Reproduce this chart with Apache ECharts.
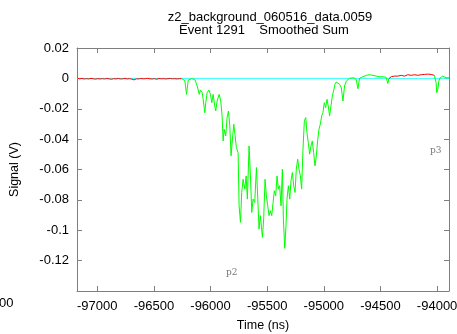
<!DOCTYPE html>
<html><head><meta charset="utf-8">
<script src="https://cdn.jsdelivr.net/npm/echarts@6/dist/echarts.min.js"></script>
<style>html,body{margin:0;padding:0;background:#fff}#c{width:457px;height:334px}</style>
</head><body><div id="c"></div>
<script>
// ---- data (time ns, signal V) ----
const titleLine1 = 'z2_background_060516_data.0059';
const titleLine2 = 'Event 1291    Smoothed Sum';
const xTicks = [-97000, -96500, -96000, -95500, -95000, -94500, -94000];
const xRange = [-97179, -93895];
const yRange = [-0.14, 0.02];
const baseline = [[-97179, 0], [-93895, 0]];
const redBefore = [[-97175,0.0001],[-97155,-0.0003],[-97135,-0.0001],[-97115,-0.0004],[-97095,-0.0002],[-97075,-0.0004],[-97055,0.0000],[-97035,-0.0003],[-97015,-0.0005],[-96995,-0.0002],[-96975,-0.0004],[-96955,-0.0002],[-96935,-0.0004],[-96915,-0.0001],[-96895,-0.0003],[-96875,-0.0006],[-96855,-0.0002],[-96835,-0.0004],[-96815,-0.0001],[-96795,-0.0004],[-96775,-0.0003],[-96755,-0.0001],[-96735,-0.0004],[-96715,-0.0002],[-96695,-0.0005],[-96675,-0.0010],[-96655,-0.0003],[-96635,-0.0004],[-96615,-0.0001],[-96595,-0.0003],[-96575,-0.0002],[-96555,0.0000],[-96535,-0.0003],[-96515,-0.0004],[-96495,-0.0002],[-96475,-0.0006],[-96455,-0.0001],[-96435,-0.0003],[-96415,-0.0002],[-96395,-0.0004],[-96375,-0.0002],[-96355,-0.0001],[-96335,-0.0003],[-96315,-0.0002],[-96295,-0.0004],[-96275,-0.0002],[-96256,-0.0002]];
const greenPulse = [[-96256,-0.0002],[-96242,-0.0011],[-96227,-0.0015],[-96212,-0.0105],[-96197,-0.0011],[-96183,-0.0007],[-96168,-0.0002],[-96153,-0.0011],[-96139,-0.0007],[-96130,-0.0024],[-96118,-0.0050],[-96100,-0.0105],[-96089,-0.0077],[-96074,-0.0094],[-96065,-0.0138],[-96051,-0.0226],[-96042,-0.0160],[-96030,-0.0094],[-96015,-0.0077],[-96001,-0.0105],[-95989,-0.0160],[-95977,-0.0105],[-95963,-0.0182],[-95954,-0.0215],[-95942,-0.0149],[-95924,-0.0105],[-95910,-0.0149],[-95898,-0.0247],[-95889,-0.0412],[-95880,-0.0335],[-95866,-0.0379],[-95854,-0.0258],[-95842,-0.0215],[-95830,-0.0313],[-95819,-0.0510],[-95807,-0.0401],[-95795,-0.0302],[-95783,-0.0379],[-95772,-0.0456],[-95757,-0.0488],[-95748,-0.0839],[-95736,-0.0948],[-95725,-0.0751],[-95713,-0.0664],[-95698,-0.0729],[-95686,-0.0642],[-95675,-0.0795],[-95660,-0.0445],[-95648,-0.0642],[-95636,-0.0883],[-95625,-0.0795],[-95610,-0.0817],[-95595,-0.0587],[-95583,-0.0795],[-95572,-0.0992],[-95560,-0.0904],[-95542,-0.1047],[-95531,-0.0926],[-95519,-0.0664],[-95507,-0.0773],[-95495,-0.0839],[-95484,-0.0904],[-95472,-0.0872],[-95460,-0.0904],[-95448,-0.0817],[-95437,-0.0740],[-95425,-0.0773],[-95413,-0.0642],[-95401,-0.0729],[-95390,-0.0707],[-95378,-0.0839],[-95366,-0.0598],[-95357,-0.0926],[-95345,-0.1119],[-95334,-0.0970],[-95325,-0.0795],[-95313,-0.0707],[-95301,-0.0795],[-95290,-0.0675],[-95278,-0.0620],[-95266,-0.0707],[-95254,-0.0751],[-95243,-0.0598],[-95231,-0.0532],[-95219,-0.0598],[-95207,-0.0642],[-95196,-0.0729],[-95184,-0.0466],[-95172,-0.0280],[-95160,-0.0258],[-95149,-0.0357],[-95137,-0.0423],[-95125,-0.0499],[-95113,-0.0445],[-95102,-0.0412],[-95090,-0.0488],[-95078,-0.0576],[-95066,-0.0510],[-95055,-0.0412],[-95043,-0.0335],[-95031,-0.0302],[-95019,-0.0247],[-95008,-0.0226],[-94996,-0.0160],[-94984,-0.0193],[-94972,-0.0138],[-94961,-0.0182],[-94949,-0.0247],[-94937,-0.0182],[-94925,-0.0116],[-94914,-0.0083],[-94902,-0.0039],[-94890,-0.0024],[-94875,-0.0033],[-94861,-0.0039],[-94846,-0.0061],[-94831,-0.0149],[-94817,-0.0050],[-94802,-0.0018],[-94787,-0.0007],[-94773,0.0000],[-94758,-0.0002],[-94737,0.0004],[-94714,-0.0007],[-94699,-0.0068],[-94685,0.0000],[-94655,0.0011],[-94626,0.0020],[-94596,0.0024],[-94567,0.0020],[-94538,0.0015],[-94508,0.0011],[-94479,0.0011],[-94450,0.0007],[-94435,-0.0033],[-94426,-0.0002]];
const redAfter = [[-94426,-0.0002],[-94405,0.0011],[-94376,0.0015],[-94347,0.0015],[-94317,0.0020],[-94288,0.0015],[-94259,0.0024],[-94229,0.0020],[-94200,0.0024],[-94170,0.0020],[-94141,0.0024],[-94112,0.0026],[-94082,0.0028],[-94053,0.0026],[-94038,0.0037],[-94024,0.0020]];
const greenTail = [[-94024,0.0020],[-94009,-0.0028],[-94003,-0.0094],[-93994,-0.0072],[-93985,-0.0018],[-93973,0.0004],[-93950,0.0015],[-93920,0.0004],[-93895,0.0004]];
const notes = [{text:'p2', x:226, y:268}, {text:'p3', x:430, y:146}];

const chart = echarts.init(document.getElementById('c'), null, {renderer:'canvas'});
const frame = '#7f7f7f';
const font = 'Liberation Sans, Arial, Helvetica, sans-serif';
const tick = {show:true, inside:true, length:5, lineStyle:{color:frame, width:1}};
const axLine = {show:true, onZero:false, lineStyle:{color:frame, width:1}};
function fmtY(v){ if (v < -0.139) return ''; return String(parseFloat(v.toFixed(2))); }
function fmtX(v){ return String(Math.round(v)); }
function line(data, color, z){ return {type:'line', data, symbol:'none', animation:false, z, lineStyle:{color, width:1}, itemStyle:{color}}; }
chart.setOption({
  animation:false,
  backgroundColor:'#fff',
  title:[
    {text:titleLine1, left:265, top:6, textAlign:'center',
      textStyle:{fontFamily:font, fontSize:13, fontWeight:'normal', color:'#000'}},
    {text:titleLine2, left:259, top:19, textAlign:'center',
      textStyle:{fontFamily:font, fontSize:13, fontWeight:'normal', color:'#000'}}
  ],
  grid:{left:77, right:8, top:48, bottom:43, outerBoundsMode:'none', containLabel:false},
  xAxis:[
    {type:'value', min:xRange[0], max:xRange[1], position:'bottom',
      axisLine:axLine, splitLine:{show:false},
      axisTick:Object.assign({customValues:xTicks}, tick),
      axisLabel:{customValues:xTicks, formatter:fmtX, color:'#000', fontFamily:font, fontSize:13, margin:9},
      name:'Time (ns)', nameLocation:'middle', nameGap:28,
      nameTextStyle:{color:'#000', fontFamily:font, fontSize:12.5}},
    {type:'value', min:xRange[0], max:xRange[1], position:'top',
      axisLine:axLine, splitLine:{show:false},
      axisTick:Object.assign({customValues:xTicks}, tick), axisLabel:{show:false}}
  ],
  yAxis:[
    {type:'value', min:yRange[0], max:yRange[1], interval:0.02, position:'left',
      axisLine:axLine, splitLine:{show:false}, axisTick:tick,
      axisLabel:{formatter:fmtY, color:'#000', fontFamily:font, fontSize:13, margin:8},
      name:'Signal (V)', nameLocation:'middle', nameGap:56,
      nameTextStyle:{color:'#000', fontFamily:font, fontSize:12.5}},
    {type:'value', min:yRange[0], max:yRange[1], interval:0.02, position:'right',
      axisLine:axLine, splitLine:{show:false}, axisTick:tick,
      axisLabel:{show:false}}
  ],
  series:[
    line(baseline, '#33ffff', 2),
    line(redBefore, '#ff0000', 3),
    line(greenPulse, '#00ff00', 3),
    line(redAfter, '#ff0000', 3),
    line(greenTail, '#00ff00', 3)
  ],
  graphic: notes.map(n => ({type:'text', left:n.x, top:n.y, silent:true,
      style:{text:n.text, fill:'#777', font:'9px "DejaVu Serif", serif'}}))
    .concat([{type:'text', left:-1, top:297, silent:true,
      style:{text:'00', fill:'#000', font:'13px ' + font}}])
});
</script></body></html>
